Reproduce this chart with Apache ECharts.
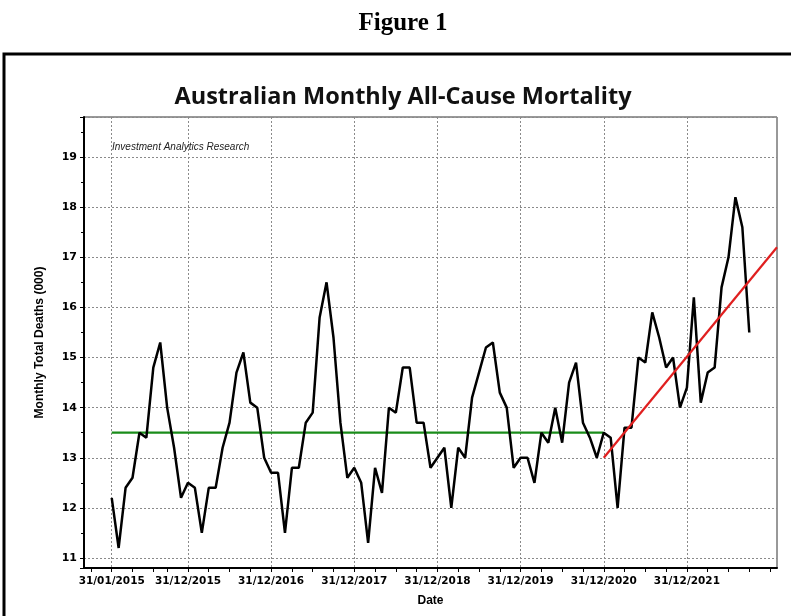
<!DOCTYPE html>
<html><head><meta charset="utf-8">
<script src="https://cdn.jsdelivr.net/npm/echarts@6/dist/echarts.min.js"></script>
<style>html,body{margin:0;padding:0;background:#fff;overflow:hidden}#c{width:791px;height:616px}</style>
</head><body><div id="c"></div>
<script>
// ---- data ----
const axisStart = [2014, 9];   // first month on the x axis (year, month)
const axisEnd = [2023, 1];     // last month on the x axis
const dataStart = '31/01/2015';
const majorLabels = ['31/01/2015','31/12/2015','31/12/2016','31/12/2017','31/12/2018','31/12/2019','31/12/2020','31/12/2021'];
const yTickLabels = [11,12,13,14,15,16,17,18,19];
// monthly total deaths (000), Jan 2015 .. Sep 2022
const deaths2015 = [12.2,11.2,12.4,12.6,13.5,13.4,14.8,15.3,14.0,13.2,12.2,12.5];
const deaths2016 = [12.4,11.5,12.4,12.4,13.2,13.7,14.7,15.1,14.1,14.0,13.0,12.7];
const deaths2017 = [12.7,11.5,12.8,12.8,13.7,13.9,15.8,16.5,15.4,13.7,12.6,12.8];
const deaths2018 = [12.5,11.3,12.8,12.3,14.0,13.9,14.8,14.8,13.7,13.7,12.8,13.0];
const deaths2019 = [13.2,12.0,13.2,13.0,14.2,14.7,15.2,15.3,14.3,14.0,12.8,13.0];
const deaths2020 = [13.0,12.5,13.5,13.3,14.0,13.3,14.5,14.9,13.7,13.4,13.0,13.5];
const deaths2021 = [13.4,12.0,13.6,13.6,15.0,14.9,15.9,15.4,14.8,15.0,14.0,14.4];
const deaths2022 = [16.2,14.1,14.7,14.8,16.4,17.0,18.2,17.6,15.5];
const baseline = [['31/01/2015',13.5],['31/12/2020',13.5]];
const trend = [['31/12/2020',13.0],['31/01/2023',17.2]];

// ---- build categories (month-end dates) ----
function pad(n){return (n<10?'0':'')+n;}
const categories = [];
for (let y = axisStart[0], m = axisStart[1]; y < axisEnd[0] || (y === axisEnd[0] && m <= axisEnd[1]); ) {
  const d = new Date(y, m, 0).getDate();
  categories.push(pad(d)+'/'+pad(m)+'/'+y);
  m++; if (m > 12) { m = 1; y++; }
}
const deaths = [].concat(deaths2015,deaths2016,deaths2017,deaths2018,deaths2019,deaths2020,deaths2021,deaths2022);
const i0 = categories.indexOf(dataStart);
const deathPairs = deaths.map((v,i)=>[categories[i0+i], v]);

function isMajor(idx){ return majorLabels.indexOf(categories[idx]) >= 0; }
function isTick(idx){
  const r = idx - i0;
  if (isMajor(idx)) return true;
  if ([-3,3,6,8].indexOf(r) >= 0) return true;
  return r > 11 && (r - 11) % 3 === 0;
}

const chart = echarts.init(document.getElementById('c'), null, {renderer:'canvas'});
chart.setOption({
  animation: false,
  backgroundColor: '#fff',
  graphic: [
    {type:'rect', shape:{x:4, y:54, width:820, height:620}, style:{fill:'none', stroke:'#000', lineWidth:3}, z:1},
    {type:'text', x:403, y:24, style:{text:'Figure 1', font:'bold 25px "Liberation Serif"', fill:'#000', align:'center', verticalAlign:'middle'}},
    {type:'text', x:403, y:97, style:{text:'Australian Monthly All-Cause Mortality', font:'bold 23.5px "Open Sans"', fill:'#111', align:'center', verticalAlign:'middle'}},
    {type:'text', x:112, y:147, style:{text:'Investment Analytics Research', font:'italic 10px "Liberation Sans"', fill:'#222', align:'left', verticalAlign:'middle'}, z:10}
  ],
  grid: {left:84, right:14, top:117, bottom:48, show:true, borderColor:'#333', borderWidth:1, backgroundColor:'transparent'},
  xAxis: {
    type:'category', data: categories, boundaryGap:false,
    name:'Date', nameLocation:'middle', nameGap:27,
    nameTextStyle:{fontFamily:'Liberation Sans', fontWeight:'bold', fontSize:12, color:'#000'},
    axisLine:{show:true, lineStyle:{color:'#000', width:2}},
    axisTick:{show:true, interval:(i)=>isTick(i), length:4, lineStyle:{color:'#000', width:1}},
    axisLabel:{interval:(i)=>isMajor(i), margin:8, color:'#000', fontFamily:'DejaVu Sans', fontWeight:'bold', fontSize:10.5},
    splitLine:{show:true, interval:(i)=>isMajor(i), lineStyle:{color:'#8a8a8a', type:[2,2], width:1}}
  },
  yAxis: {
    type:'value', min:10.8, max:19.8, splitNumber:9,
    name:'Monthly Total Deaths (000)', nameLocation:'middle', nameGap:38,
    nameTextStyle:{fontFamily:'Liberation Sans', fontWeight:'bold', fontSize:12, color:'#000'},
    axisLine:{show:true, lineStyle:{color:'#000', width:2}},
    axisTick:{show:true, length:4, lineStyle:{color:'#000'}},
    minorTick:{show:true, splitNumber:2, length:3, lineStyle:{color:'#000'}},
    axisLabel:{showMinLabel:false, showMaxLabel:false, margin:7, color:'#000', fontFamily:'DejaVu Sans', fontWeight:'bold', fontSize:11,
      formatter:(v)=> yTickLabels.indexOf(v) >= 0 ? String(v) : ''},
    splitLine:{show:true, lineStyle:{color:'#8a8a8a', type:[2,2], width:1}}
  },
  series: [
    {type:'line', name:'Baseline', data: baseline, symbol:'none', lineStyle:{color:'#1a8c1a', width:2.2}, z:3},
    {type:'line', name:'Deaths', data: deathPairs, symbol:'none', lineStyle:{color:'#000', width:2.5}, z:4},
    {type:'line', name:'Trend', data: trend, symbol:'none', lineStyle:{color:'#e01f1f', width:2.2}, z:5}
  ]
});
</script>
</body></html>
